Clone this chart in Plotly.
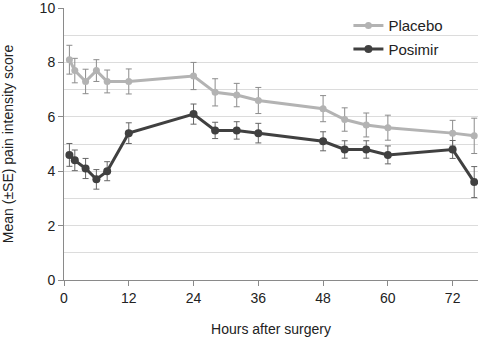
import plotly.graph_objects as go

# Hours after surgery at which pain was assessed
hours = [1, 2, 4, 6, 8, 12, 24, 28, 32, 36, 48, 52, 56, 60, 72, 76]

# Mean pain intensity score and standard error per group
placebo_mean = [8.1, 7.7, 7.3, 7.7, 7.3, 7.3, 7.5, 6.9, 6.8, 6.6, 6.3, 5.9, 5.7, 5.6, 5.4, 5.3]
placebo_se = [0.53, 0.45, 0.45, 0.40, 0.42, 0.46, 0.50, 0.50, 0.43, 0.48, 0.48, 0.43, 0.44, 0.46, 0.47, 0.65]

posimir_mean = [4.6, 4.4, 4.1, 3.7, 4.0, 5.4, 6.1, 5.5, 5.5, 5.4, 5.1, 4.8, 4.8, 4.6, 4.8, 3.6]
posimir_se = [0.42, 0.38, 0.37, 0.36, 0.35, 0.38, 0.37, 0.30, 0.32, 0.36, 0.35, 0.32, 0.32, 0.33, 0.33, 0.57]

x_tick_step = 12
y_tick_step = 2

FONT = "Liberation Sans, Arial, sans-serif"
GRID = "#dcdcdc"

fig = go.Figure()

fig.add_trace(go.Scatter(
    x=hours, y=placebo_mean, name="Placebo", mode="lines+markers",
    line=dict(color="#b3b3b3", width=3),
    marker=dict(color="#b3b3b3", size=7),
    error_y=dict(type="data", array=placebo_se, visible=True,
                 color="#8c8c8c", thickness=1, width=3),
    legendgroup="a",
))

fig.add_trace(go.Scatter(
    x=hours, y=posimir_mean, name="Posimir", mode="lines+markers",
    line=dict(color="#404040", width=3),
    marker=dict(color="#404040", size=8),
    error_y=dict(type="data", array=posimir_se, visible=True,
                 color="#666666", thickness=1, width=3),
    legendgroup="b",
))

fig.update_layout(
    width=479, height=337,
    margin=dict(l=64, r=1, t=8, b=57, autoexpand=False),
    paper_bgcolor="white", plot_bgcolor="white",
    font=dict(family=FONT, size=14, color="#222222"),
    showlegend=True,
    legend=dict(
        x=0.687, xanchor="left", y=0.995, yanchor="top",
        bgcolor="rgba(0,0,0,0)", font=dict(size=15, color="#222222"),
        traceorder="grouped", tracegroupgap=1,
    ),
)

fig.update_xaxes(
    range=[0, 76.7], tick0=0, dtick=x_tick_step,
    showgrid=False, zeroline=False, automargin=False,
    showline=True, linecolor="#8a8a8a", linewidth=1,
    ticks="outside", ticklen=5, tickcolor="#8a8a8a",
    title=dict(text="Hours after surgery", font=dict(size=14), standoff=27),
)

fig.update_yaxes(
    range=[0, 10.001], tick0=0, dtick=y_tick_step,
    showgrid=True, gridcolor=GRID, gridwidth=1,
    minor=dict(tick0=0, dtick=1, showgrid=True, gridcolor=GRID, gridwidth=1),
    zeroline=False, automargin=False,
    showline=True, linecolor="#8a8a8a", linewidth=1,
    ticks="outside", ticklen=5, tickcolor="#8a8a8a",
    ticklabeloverflow="allow",
    title=dict(text="Mean (±SE) pain intensity score", font=dict(size=14), standoff=25),
)

fig.write_html("out.html")
